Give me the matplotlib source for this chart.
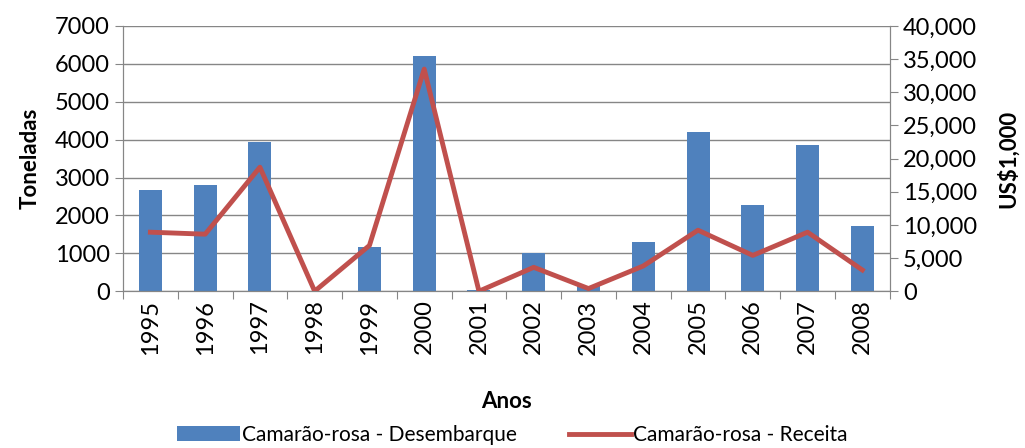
import numpy as np
import matplotlib.pyplot as plt
from matplotlib.ticker import FuncFormatter

plt.rcParams['font.family'] = ['Lato', 'DejaVu Sans']

# dados
anos = ['1995', '1996', '1997', '1998', '1999', '2000', '2001',
        '2002', '2003', '2004', '2005', '2006', '2007', '2008']
desembarque = [2680, 2790, 3930, 0, 1160, 6200, 30,
               1000, 150, 1290, 4200, 2270, 3860, 1720]  # toneladas
receita = [8900, 8600, 18700, 0, 6900, 33500, 0,
           3600, 400, 3800, 9200, 5400, 8900, 3200]  # US$1,000

azul = '#4f81bd'
vermelho = '#c0504d'
cinza = '#868686'

fig = plt.figure(figsize=(10.25, 4.48), dpi=100)
ax = fig.add_axes([0.12, 0.35, 0.748, 0.592])
x = np.arange(len(anos))

ax.bar(x, desembarque, width=0.42, color=azul, label='Camarão-rosa - Desembarque', zorder=2)
ax.set_ylim(0, 7000)
ax.set_yticks(range(0, 7001, 1000))
ax.set_xlim(-0.5, len(anos) - 0.5)
ax.grid(axis='y', color=cinza, linewidth=1, zorder=0)

ax2 = ax.twinx()
ax2.plot(x, receita, color=vermelho, linewidth=3.5, label='Camarão-rosa - Receita', zorder=3)
ax2.set_ylim(0, 40000)
ax2.set_yticks(range(0, 40001, 5000))
ax2.yaxis.set_major_formatter(FuncFormatter(lambda v, p: f'{int(v):,}'))

# ticks entre categorias
ax.set_xticks(np.arange(-0.5, len(anos), 1))
ax.set_xticklabels([])
ax.set_xticks(x, minor=True)
ax.set_xticklabels(anos, minor=True, rotation=90, fontsize=17)
ax.tick_params(axis='x', which='minor', length=0, pad=6)
ax.tick_params(axis='x', which='major', length=6, color=cinza, direction='out')
ax.tick_params(axis='y', labelsize=17, length=6, color=cinza)
ax2.tick_params(axis='y', labelsize=17, length=6, color=cinza)

for a in (ax, ax2):
    a.spines['top'].set_visible(False)
    for s in ('left', 'right', 'bottom'):
        a.spines[s].set_color(cinza)

ax.set_ylabel('Toneladas', fontsize=16, fontweight='bold', labelpad=10)
ax2.set_ylabel('US$1,000', fontsize=16, fontweight='bold', labelpad=14)
ax.set_xlabel('Anos', fontsize=16, fontweight='bold', labelpad=26)

h1, l1 = ax.get_legend_handles_labels()
h2, l2 = ax2.get_legend_handles_labels()
fig.legend(h1 + h2, l1 + l2, loc='lower center', ncol=2, frameon=False,
           fontsize=15, bbox_to_anchor=(0.5, -0.035), handlelength=3,
           handletextpad=0.1, columnspacing=2.5)

fig.savefig('out.png', dpi=100)
